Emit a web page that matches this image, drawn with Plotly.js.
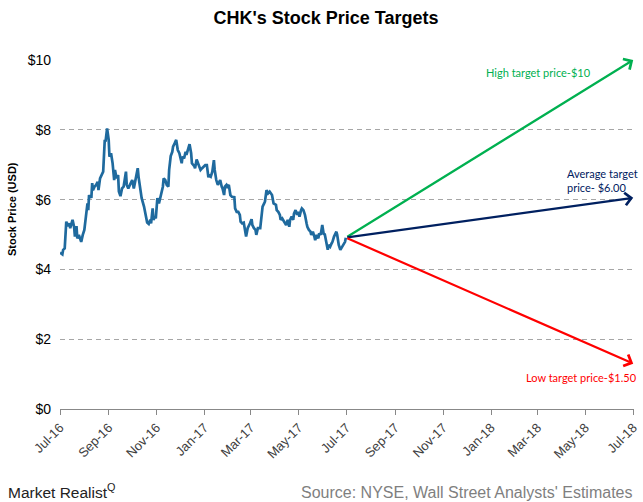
<!DOCTYPE html>
<html>
<head>
<meta charset="utf-8">
<script src="https://cdn.plot.ly/plotly-3.0.1.min.js"></script>
<style>
  html, body { margin: 0; padding: 0; background: #fff; }
  #chart { width: 643px; height: 502px; }
</style>
</head>
<body>
<div id="chart"></div>
<script>
// ---- Data ----
var dates = [
  "2016-07-01","2016-07-04","2016-07-05","2016-07-07","2016-07-09","2016-07-11","2016-07-13","2016-07-14","2016-07-15","2016-07-17",
  "2016-07-19","2016-07-20","2016-07-22","2016-07-23","2016-07-25","2016-07-28","2016-07-30","2016-08-01","2016-08-03","2016-08-05",
  "2016-08-06","2016-08-07","2016-08-08","2016-08-10","2016-08-11","2016-08-12","2016-08-14","2016-08-16","2016-08-18","2016-08-19",
  "2016-08-21","2016-08-23","2016-08-25","2016-08-27","2016-08-28","2016-08-30","2016-09-01","2016-09-02","2016-09-04","2016-09-06",
  "2016-09-08","2016-09-09","2016-09-11","2016-09-13","2016-09-14","2016-09-16","2016-09-18","2016-09-20","2016-09-23","2016-09-24",
  "2016-09-26","2016-09-28","2016-10-01","2016-10-03","2016-10-05","2016-10-08","2016-10-09","2016-10-11","2016-10-13","2016-10-16",
  "2016-10-18","2016-10-20","2016-10-22","2016-10-24","2016-10-25","2016-10-27","2016-10-28","2016-10-30","2016-10-31","2016-11-02",
  "2016-11-04","2016-11-05","2016-11-07","2016-11-09","2016-11-10","2016-11-12","2016-11-14","2016-11-16","2016-11-17","2016-11-19",
  "2016-11-21","2016-11-22","2016-11-24","2016-11-26","2016-11-28","2016-11-30","2016-12-03","2016-12-04","2016-12-06","2016-12-08",
  "2016-12-09","2016-12-11","2016-12-13","2016-12-15","2016-12-16","2016-12-19","2016-12-20","2016-12-22","2016-12-25","2016-12-27",
  "2016-12-29","2016-12-31","2017-01-02","2017-01-04","2017-01-06","2017-01-07","2017-01-09","2017-01-11","2017-01-13","2017-01-14",
  "2017-01-16","2017-01-18","2017-01-19","2017-01-21","2017-01-23","2017-01-24","2017-01-26","2017-01-27","2017-01-29","2017-01-30",
  "2017-02-01","2017-02-03","2017-02-05","2017-02-08","2017-02-09","2017-02-11","2017-02-13","2017-02-15","2017-02-16","2017-02-18",
  "2017-02-20","2017-02-21","2017-02-23","2017-02-25","2017-02-26","2017-02-28","2017-03-02","2017-03-03","2017-03-05","2017-03-07",
  "2017-03-08","2017-03-10","2017-03-13","2017-03-14","2017-03-16","2017-03-18","2017-03-19","2017-03-21","2017-03-23","2017-03-25",
  "2017-03-26","2017-03-28","2017-03-30","2017-04-02","2017-04-03","2017-04-05","2017-04-07","2017-04-08","2017-04-10","2017-04-12",
  "2017-04-13","2017-04-15","2017-04-17","2017-04-19","2017-04-20","2017-04-22","2017-04-24","2017-04-25","2017-04-27","2017-04-29",
  "2017-04-30","2017-05-02","2017-05-04","2017-05-05","2017-05-07","2017-05-09","2017-05-11","2017-05-12","2017-05-14","2017-05-16",
  "2017-05-17","2017-05-19","2017-05-21","2017-05-22","2017-05-24","2017-05-26","2017-05-27","2017-05-29","2017-05-31","2017-06-02",
  "2017-06-03","2017-06-05","2017-06-07","2017-06-08","2017-06-10","2017-06-12","2017-06-13","2017-06-15","2017-06-18","2017-06-19",
  "2017-06-21","2017-06-23","2017-06-24","2017-06-26","2017-06-28","2017-06-29","2017-06-30"
];
var prices = [
  4.48,4.43,4.56,4.60,5.37,5.24,5.32,5.18,5.27,5.42,
  5.21,4.94,5.24,4.89,4.99,4.79,4.99,5.13,5.51,5.89,
  5.70,6.13,6.07,6.08,6.47,6.27,6.37,6.42,6.51,6.27,
  6.61,6.72,6.80,7.71,7.66,8.04,7.71,7.23,7.33,7.04,
  6.56,6.85,6.61,6.70,6.23,6.10,6.32,6.37,6.80,6.42,
  6.32,6.42,6.56,6.32,6.56,6.90,6.66,6.37,6.04,5.80,
  5.56,5.34,5.30,5.42,5.32,5.75,5.42,5.51,5.46,6.04,
  5.89,5.99,6.18,6.37,6.61,6.56,6.42,6.37,6.85,7.25,
  7.37,7.52,7.61,7.71,7.42,7.33,7.04,7.23,7.18,7.37,
  7.28,7.42,7.59,7.33,7.04,6.96,6.90,7.15,6.94,6.85,
  6.90,6.94,6.99,6.99,6.64,6.70,6.66,6.80,7.13,6.85,
  6.56,6.42,6.47,6.56,6.37,6.32,6.13,6.37,6.42,6.37,
  6.42,6.13,6.08,6.07,5.75,5.65,5.65,5.56,5.37,5.32,
  5.34,5.22,4.94,5.18,5.22,5.32,5.44,5.27,5.18,5.13,
  4.99,5.18,5.18,5.42,5.80,5.89,5.94,6.27,6.18,6.23,
  6.20,6.13,5.89,5.85,5.70,5.65,5.56,5.42,5.46,5.37,
  5.32,5.27,5.42,5.22,5.42,5.51,5.42,5.60,5.70,5.56,
  5.65,5.51,5.70,5.75,5.70,5.56,5.32,5.22,5.13,5.08,
  4.99,5.08,4.94,4.84,4.99,4.89,5.03,4.99,5.27,4.99,
  5.03,4.84,4.56,4.70,4.65,4.75,4.79,4.94,5.08,4.99,
  4.70,4.56,4.60,4.70,4.75,4.79,4.91
];
var targetStartDate = "2017-06-30";
var targetStartPrice = 4.91;
var targetEndDate = "2018-07-01";
var targetNames = ["High", "Average", "Low"];
var targetEndPrices = [10.0, 6.05, 1.3];
var targetLabels = ["High target price-$10", "Average target<br>price- $6.00", "Low target price-$1.50"];
var yTickVals = [0, 2, 4, 6, 8, 10];
var yTickText = ["$0", "$2", "$4", "$6", "$8", "$10"];

// ---- Styles ----
var targetColors = ["#00B050", "#002060", "#FF0000"];
var labelPos = [
  {x: 0.738, y: 0.963},
  {x: 0.880, y: 0.656},
  {x: 0.808, y: 0.089}
];

var traces = [{
  type: "scatter",
  mode: "lines",
  x: dates,
  y: prices,
  line: {color: "#1F6A9E", width: 2.7},
  hoverinfo: "x+y",
  showlegend: false
}];

var annotations = [];
for (var i = 0; i < targetEndPrices.length; i++) {
  annotations.push({
    x: targetEndDate, y: targetEndPrices[i], xref: "x", yref: "y",
    ax: targetStartDate, ay: targetStartPrice, axref: "x", ayref: "y",
    text: "", showarrow: true, arrowhead: 4, arrowsize: 1.1,
    arrowwidth: 2.2, arrowcolor: targetColors[i], standoff: 0, startstandoff: 0
  });
  annotations.push({
    x: labelPos[i].x, y: labelPos[i].y, xref: "paper", yref: "paper",
    xanchor: "left", yanchor: "middle", align: "left",
    text: targetLabels[i], showarrow: false,
    font: {family: "Lato, 'Open Sans', sans-serif", size: 11, color: targetColors[i]}
  });
}
// y-axis title
annotations.push({
  x: -0.0836, y: 0.573, xref: "paper", yref: "paper",
  text: "<b>Stock Price (USD)</b>", textangle: -90, showarrow: false,
  xanchor: "center", yanchor: "middle",
  font: {family: "Liberation Sans, Arial, sans-serif", size: 11, color: "#000"}
});
// footer
annotations.push({
  x: -0.0940, y: -0.235, xref: "paper", yref: "paper", showarrow: false,
  xanchor: "left", yanchor: "middle",
  text: "Market Realist<sup>Q</sup>",
  font: {family: "'Liberation Sans Narrow', 'Arial Narrow', sans-serif", size: 15.5, color: "#222"}
});
annotations.push({
  x: 1.0, y: -0.238, xref: "paper", yref: "paper", showarrow: false,
  xanchor: "right", yanchor: "middle",
  text: "Source: NYSE, Wall Street Analysts' Estimates",
  font: {family: "'Liberation Sans Narrow', 'Arial Narrow', sans-serif", size: 16, color: "#7F7F7F"}
});

var layout = {
  width: 643, height: 502,
  margin: {l: 60, r: 9, t: 60, b: 93},
  paper_bgcolor: "#fff", plot_bgcolor: "#fff",
  title: {
    text: "<b>CHK's Stock Price Targets</b>",
    x: 0.507, xanchor: "center", y: 0.964, yanchor: "middle",
    font: {family: "Liberation Sans, Arial, sans-serif", size: 18, color: "#000"}
  },
  xaxis: {
    type: "date",
    range: ["2016-07-01", "2018-07-02"],
    tick0: "2016-07-01", dtick: "M2", tickformat: "%b-%y",
    tickangle: -45,
    ticks: "outside", ticklen: 5, tickcolor: "#888",
    showline: true, linecolor: "#888", linewidth: 1,
    showgrid: false, zeroline: false,
    tickfont: {family: "Liberation Sans, Arial, sans-serif", size: 13, color: "#404040"}
  },
  yaxis: {
    range: [0, 10],
    tickvals: yTickVals, ticktext: yTickText,
    showgrid: true, gridcolor: "#A6A6A6", gridwidth: 1, griddash: "5px,4px",
    zeroline: false, showline: false, ticks: "",
    ticklabelstandoff: 8,
    tickfont: {family: "Liberation Sans, Arial, sans-serif", size: 14, color: "#000"}
  },
  showlegend: false,
  annotations: annotations
};

Plotly.newPlot("chart", traces, layout, {displayModeBar: false, staticPlot: true});
</script>
</body>
</html>
